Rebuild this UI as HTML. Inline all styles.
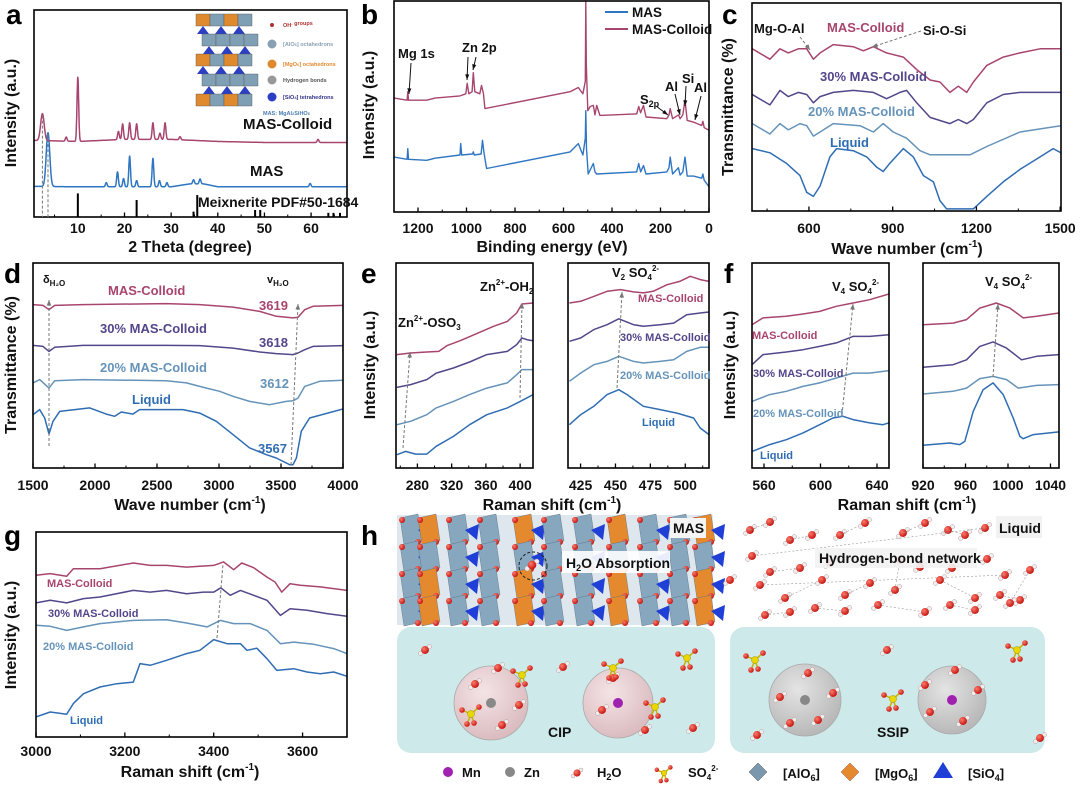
<!DOCTYPE html>
<html><head><meta charset="utf-8">
<style>
html,body{margin:0;padding:0;background:#fff;}
svg{display:block;font-family:"Liberation Sans",Arial,sans-serif;}
.tk{font-size:14px;font-weight:bold;fill:#111;}
.at{font-size:16px;font-weight:bold;fill:#111;}
.pl{font-size:28px;font-weight:bold;fill:#000;}
.lb{font-size:13px;font-weight:bold;}
.sm{font-size:11px;font-weight:bold;}
</style></head>
<body>
<svg id="fig" width="1080" height="786" viewBox="0 0 1080 786" xmlns="http://www.w3.org/2000/svg">
<defs>
<radialGradient id="gPink" cx="0.4" cy="0.35" r="0.7"><stop offset="0" stop-color="#f4e4e6"/><stop offset="1" stop-color="#d9b9bd"/></radialGradient>
<radialGradient id="gGray" cx="0.4" cy="0.35" r="0.7"><stop offset="0" stop-color="#e4e4e4"/><stop offset="1" stop-color="#b5b5b5"/></radialGradient>
<radialGradient id="gRed" cx="0.35" cy="0.35" r="0.7"><stop offset="0" stop-color="#ff7a6a"/><stop offset="1" stop-color="#c0100c"/></radialGradient>
</defs>
<g id="plots"></g>
<g id="illus"></g>
</svg>
<script>
// ---------------- DATA ----------------
const aColBaseX=[0.6,10,20,30,40,50,67.7];
const aColBaseY=[37,36.5,37.5,37.5,36.5,36,36];
const aColPeakPos=[2.4,7.5,10,18.7,19.6,21.1,22.6,26.1,27.6,28.7,31.9,61.5];
const aColPeakH=[13,2,31,4,7.5,8,7.5,8,3,8,1.5,1.5];
const aMasBaseX=[0.6,10,30,34,37,40,67.7];
const aMasBaseY=[14.8,14.6,14.6,16,16,14.6,14.6];
const aMasPeakPos=[3.6,16.1,18.5,19.8,21.1,22.6,26.1,27.5,29.1,34.8,36.2,59.8];
const aMasPeakH=[26,2,7.2,4,14.8,3,13.7,3,2,2,2.4,1.6];
const aStickPos=[10,22.6,34.8,35.6,48,49.1,63.7,64.8,66.2];
const aStickH=[11.4,8.2,2.6,10.6,3.4,3.4,2,2,2];
const bColX=[1299,1245,1242,1239,1164,1130,1027,1003,997,990,977,972,966,945,938,930,924,573,539,520,510,508,506,500,490,477,470,463,450,298,290,282,270,260,174,165,160,150,126,119,108,99,90,64,30,25,20,0];
const bColY=[54,53,57,53,53,54,55,56,61,56,57,66,57,56,60,56,49,57,59,56,62,100,70,48,50,50.5,46,50.5,45.8,46.5,50,47,50.5,45,44.2,46,49,44.2,46,44.2,46,53,43.4,42.6,41,43,40,38.7];
const bMasX=[1299,1245,1242,1239,1164,1130,1027,1024,1020,975,972,968,940,934,928,917,573,539,520,510,508,505,498,477,470,463,298,290,282,270,260,174,165,160,150,126,119,108,99,90,64,30,25,20,0];
const bMasY=[26,25,30,25,24.5,25.5,27,32.4,27,27.5,28.5,27,27.5,34,28,20.6,28.5,32.4,27,35,48,30,18,23,19,18,19,23,19,22,18,19,21,26,18,21,17.5,19,26,17,17,16,18,15,12];
const cColX=[397,460,496,526,562,592,616,640,687,759,795,831,878,938,986,1034,1069,1105,1135,1165,1189,1237,1296,1356,1428,1503];
const cColY=[78,73,78,76,78,78,73,76,80,79,77,79,76,74,68,63,62,57,60,57,62,70,74,76,78,78];
const c30X=[397,460,496,526,562,592,616,640,687,759,831,878,926,950,986,1034,1105,1135,1165,1189,1237,1296,1356,1503];
const c30Y=[56,51,58,55,57,56,52,55,57,58,57,54,57,58,52,45,42,44,42,44,52,56,57,57];
const c20X=[397,460,496,526,568,592,616,640,687,783,831,866,902,950,998,1034,1117,1177,1237,1356,1503];
const c20Y=[42,37,42,39,42,41,36,38,42,41,38,42,38,35,29,27,27,27,31,38,41];
const cLiqX=[397,460,519,568,592,616,640,675,699,759,807,843,866,890,938,974,1010,1046,1069,1093,1189,1237,1296,1356,1416,1475,1503];
const cLiqY=[30,28,23,17,9,7,12,26,30,29,26,21,19,23,30,26,17,14,5,1,1,7,14,20,25,30,28];
const dColX=[1500,1581,1629,1675,1903,2575,2844,3113,3328,3462,3597,3637,3691,3758,4000];
const dColY=[79.7,79.3,77.2,79.3,79.7,80.2,79.7,78.5,76.4,74,73.2,73.5,77.2,78.9,79.3];
const d30X=[1500,1581,1629,1675,1903,2575,2844,3113,3328,3462,3597,3637,3691,3758,4000];
const d30Y=[59.8,59.3,56.9,58.9,59.8,59.8,59.7,58.5,56.6,55.8,55.3,56.1,57.7,59.3,59.7];
const d20X=[1500,1554,1629,1675,1903,2575,2737,2898,3005,3113,3247,3408,3543,3597,3637,3691,3812,4000];
const d20Y=[41.5,43.1,39,42.6,43.1,42.6,41.5,39,37.4,35,32.5,30.9,32.5,32.8,34.1,39.8,42.3,42.8];
const dLiqX=[1500,1554,1594,1629,1661,1715,1957,2091,2159,2212,2306,2360,2710,2844,2978,3113,3247,3382,3462,3570,3597,3624,3664,3731,4000];
const dLiqY=[26,28.5,24.4,16.6,22.8,27.6,29.3,26.3,25.2,27.3,26.3,28.5,28.5,26.8,22.8,16.3,9.8,6.5,4.9,1.6,1.6,4.9,17.9,24.4,28.8];
const eLColX=[256,272,291,305,315,330,346,369,385,396,402,415];
const eLColY=[55.3,56.1,56.6,56.9,59.8,62.1,65,69.1,71.5,75.6,80,80.5];
const eL30X=[256,272,291,302,322,341,361,385,396,402,408,415];
const eL30Y=[39.3,40.7,43.1,46.3,48.8,51.7,55.3,56.9,60.2,63.4,62.6,62.1];
const eL20X=[256,272,291,302,322,341,361,385,396,402,415];
const eL20Y=[21.1,22.8,26,29.3,32.5,35.8,39,41.5,45.5,48,48];
const eLLiqX=[256,266,278,291,302,322,341,361,385,400,415];
const eLLiqY=[6.5,8.1,6.8,6.8,10.6,15.4,21.1,26,29.3,32.5,35.8];
const eRColX=[417,425,434.5,444,453.6,463,470,477,487,496,503.6,510.7,517];
const eRColY=[80.5,81.3,83.7,86.2,87,85.9,85.4,86.2,89.4,91,93.5,91.9,91];
const eR30X=[417,425,434.5,444,452.4,463,470,482,491.7,501,510.7,517];
const eR30Y=[61.8,63.4,67.5,69.9,72.8,69.9,69.1,69.9,70.7,74.8,75.6,76.1];
const eR20X=[417,425,434.5,444,452.4,463,470,482,491.7,501,510.7,517];
const eR20Y=[42.3,46.3,50.4,52,54.5,52,51.2,52,52.8,56.9,58.9,58.9];
const eRLiqX=[417,425,434.5,444,452.4,458.3,470,482,494,506,510.7,517];
const eRLiqY=[21.1,26,30.1,35.8,38.2,35.8,30.1,28.5,26.8,24.4,19.5,16.3];
const fLColX=[551.5,559.3,575.8,587.6,599.4,611.2,623,634.8,648.5];
const fLColY=[69.9,73.2,74,75.1,76.4,78.9,80.5,82.1,84.9];
const fL30X=[551.5,559.3,575.8,587.6,599.4,611.2,623,634.8,648.5];
const fL30Y=[50.4,55.3,56.6,57.7,59.3,61,64.2,64.2,65];
const fL20X=[551.5,564,575.8,587.6,599.4,611.2,623,634.8,648.5];
const fL20Y=[32.5,35.8,37.4,39.8,41.5,43.9,46.3,46.3,47.5];
const fLLiqX=[551.5,564,575.8,587.6,599.4,608.8,615.9,623,634.8,644.2,648.5];
const fLLiqY=[8.1,11.4,13.8,17.1,21.1,24.4,25.2,23.6,22,21.1,22];
const fRColX=[920,948.3,960.9,973.5,989,1001.8,1014.3,1027,1048];
const fRColY=[69.9,70.7,72.4,78,80.5,78,73.2,74,75.6];
const fR30X=[920,948.3,960.9,973.5,986,998.6,1012.8,1027,1048];
const fR30Y=[49.1,50.4,52.8,59.3,61.5,58.5,52.8,54.5,55.3];
const fR20X=[920,948.3,960.9,973.5,986,998.6,1009.6,1027,1048];
const fR20Y=[36.1,37.4,39,43.6,44.7,43.1,39,40.3,40.7];
const fRLiqX=[920,945.2,954.6,959.3,967.2,976.6,986,995.5,1004.9,1011.2,1014.3,1023.8,1048];
const fRLiqY=[11.1,12.2,11.4,13,27.6,38.2,41.5,35.8,24.4,15.4,14.3,16.3,17.6];
const gColX=[3000,3032,3069,3084,3144,3219,3257,3294,3339,3369,3400,3422,3445,3463,3490,3520,3538,3553,3572,3595,3640,3700];
const gColY=[78.9,79.7,78.4,82.1,82.1,84.9,83.7,83.7,82.9,83.3,83.7,85.4,81.6,84.9,82.6,78,75.6,70.7,74.8,74,73.2,71.5];
const g30X=[3000,3032,3069,3107,3144,3219,3257,3294,3339,3377,3400,3416,3437,3460,3490,3520,3550,3572,3610,3655,3700];
const g30Y=[65.4,66.7,65.4,67.5,68.3,71.5,70.7,71.5,69.9,70.7,70.7,72.8,69.1,71.5,69.1,66.7,59.3,62.6,61.8,60.2,58.9];
const g20X=[3000,3032,3069,3107,3144,3219,3294,3339,3385,3415,3445,3482,3520,3550,3580,3625,3670,3700];
const g20Y=[54.5,54,52,53.7,55.3,56.9,57.2,55.6,53.7,56.9,55.3,55.3,52,45.5,46.3,45.2,43.1,40.7];
const gLiqX=[3000,3032,3069,3084,3107,3144,3182,3219,3234,3257,3294,3339,3369,3400,3430,3460,3475,3497,3520,3542,3580,3610,3640,3670,3700];
const gLiqY=[9.8,12.2,11.1,16.3,21.1,24.4,26,26.8,35.8,35,37.4,40.7,42.3,47.5,45.5,45.5,42.3,43.3,38.2,32.5,33.3,31.7,30.9,31.7,29.6];

// ---------------- DRAWING ----------------
const NS='http://www.w3.org/2000/svg';
const plots=document.getElementById('plots');
const illus=document.getElementById('illus');
const C={col:'#a8456f',p30:'#54468a',p20:'#6593b9',liq:'#2f6db3',mas:'#2f76c2'};
function el(tag,attrs,parent){const e=document.createElementNS(NS,tag);for(const k in attrs)e.setAttribute(k,attrs[k]);(parent||plots).appendChild(e);return e;}
function txt(x,y,s,cls,fill,anchor,parent,name){const t=el('text',{x:x,y:y,class:cls,fill:fill||'#111','text-anchor':anchor||'start'},parent);t.innerHTML=s;


return t;}
let clipN=0;
function makeAxes(o){
  const g=el('g',{});
  
  
  const sx=v=>o.x0+(v-o.d0)/(o.d1-o.d0)*(o.x1-o.x0);
  const sy=v=>o.y1-v/100*(o.y1-o.y0);
  const id='clip'+(clipN++);
  const cp=el('clipPath',{id:id},g);el('rect',{x:o.x0,y:o.y0-30,width:o.x1-o.x0,height:o.y1-o.y0+30},cp);
  const sg=el('g',{'clip-path':'url(#'+id+')'},g);
  (o.minor||[]).forEach(t=>{const x=sx(t);const m=el('line',{x1:x,x2:x,y1:o.y1,y2:o.y1-2.5,stroke:'#000','stroke-width':1},g);
    
    });
  o.ticks.forEach(t=>{const x=sx(t);const m=el('line',{x1:x,x2:x,y1:o.y1,y2:o.y1-4.5,stroke:'#000','stroke-width':1.3},g);
    
    
    txt(x,o.ty,String(t),'tk','#111','middle',g,'x-tick-label');});
  const fr=el('rect',{x:o.x0,y:o.y0,width:o.x1-o.x0,height:o.y1-o.y0,fill:'none',stroke:'#000','stroke-width':1.6},g);
  
  
  return {g,sg,sx,sy};
}
function line(ax,xs,ys,color,name,w){
  const d=xs.map((x,i)=>(i?'L':'M')+ax.sx(x).toFixed(1)+','+ax.sy(ys[i]).toFixed(1)).join('');
  const p=el('path',{d:d,fill:'none',stroke:color,'stroke-width':w||1.5,'stroke-linejoin':'round'},ax.sg);
  
  
  return p;
}
function interp(xs,ys,x){for(let i=1;i<xs.length;i++){if(x<=xs[i]){const t=(x-xs[i-1])/(xs[i]-xs[i-1]);return ys[i-1]+t*(ys[i]-ys[i-1]);}}return ys[ys.length-1];}
function peaksCurve(bx,by,pp,ph,d0,d1){const xs=[],ys=[];for(let x=d0;x<=d1;x+=0.05){let v=interp(bx,by,x);pp.forEach((p,i)=>{const s=(p<5?0.38:0.18);v+=ph[i]*Math.exp(-0.5*((x-p)/s)**2);});xs.push(x);ys.push(v);}return [xs,ys];}
function dashed(x1,y1,x2,y2,name,head){const l=el('line',{x1,y1,x2,y2,stroke:'#777','stroke-width':1,'stroke-dasharray':'3,2'});
  
  
  if(head){const a=Math.atan2(y2-y1,x2-x1),L=6;const p=el('path',{d:`M${x2},${y2}L${x2-L*Math.cos(a-0.4)},${y2-L*Math.sin(a-0.4)}L${x2-L*Math.cos(a+0.4)},${y2-L*Math.sin(a+0.4)}Z`,fill:'#777'});
  
  }}
function arrow(x1,y1,x2,y2,name){const l=el('line',{x1,y1,x2,y2,stroke:'#111','stroke-width':1});
  
  
  const a=Math.atan2(y2-y1,x2-x1),L=6;const p=el('path',{d:`M${x2},${y2}L${x2-L*Math.cos(a-0.35)},${y2-L*Math.sin(a-0.35)}L${x2-L*Math.cos(a+0.35)},${y2-L*Math.sin(a+0.35)}Z`,fill:'#111'});
  
  }
function ytitle(x,y,s,name){const t=el('text',{x:0,y:0,class:'at','text-anchor':'middle',transform:`translate(${x},${y}) rotate(-90)`});t.innerHTML=s;
  
  }
const cm='(cm<tspan font-size="10" dy="-7">-1</tspan><tspan dy="7">)</tspan>';

// ----- a -----
let A=makeAxes({name:'panel-a',x0:34,x1:347,y0:10,y1:217,d0:0.6,d1:67.7,ticks:[10,20,30,40,50,60],minor:[5,15,25,35,45,55,65],ty:233});
aStickPos.forEach((p,i)=>{const s=el('line',{x1:A.sx(p),x2:A.sx(p),y1:A.sy(0),y2:A.sy(aStickH[i]),stroke:'#000','stroke-width':2},A.sg);
  
  });
let cc=peaksCurve(aMasBaseX,aMasBaseY,aMasPeakPos,aMasPeakH,0.6,67.7);line(A,cc[0],cc[1],C.mas,'mas-xrd-curve');
cc=peaksCurve(aColBaseX,aColBaseY,aColPeakPos,aColPeakH,0.6,67.7);line(A,cc[0],cc[1],C.col,'mas-colloid-xrd-curve');
dashed(A.sx(2.4),A.sy(49),A.sx(2.4),A.sy(0),'guide-line-1');dashed(A.sx(3.6),A.sy(40),A.sx(3.6),A.sy(0),'guide-line-2');
txt(243,129,'MAS-Colloid','lb','#111','start',null,'mas-colloid-label').setAttribute('style','font-size:15px');
txt(250,176,'MAS','lb','#111','start',null,'mas-label').setAttribute('style','font-size:15px');
txt(198,207,'Meixnerite PDF#50-1684','lb','#111','start',null,'reference-label').setAttribute('style','font-size:14px');
(function(){const ig=el('g',{});
 for(let r=0;r<5;r++){const y=14+r*20;const x0=r%2?202:196;
  for(let k=0;k<4;k++){const col=(r%2==0&&k%2==0)?'#e08a30':'#7f9fb5';el('rect',{x:x0+k*14,y:y,width:14,height:12,fill:col,stroke:'#555','stroke-width':0.4},ig);}
  if(r<4)for(let k=0;k<3;k++)el('path',{d:`M${x0+7+k*18},${y+12}l6,8h-12z`,fill:'#2b3fc4'},ig);}
 const items=[['OH<tspan dy="-2" font-size="4">-</tspan> groups','#b03030','#b03030'],['[AlO<tspan font-size="4">6</tspan>] octahedrons','#8aa0b5','#8aa0b5'],['[MgO<tspan font-size="4">6</tspan>] octahedrons','#e08a30','#e08a30'],['Hydrogen bonds','#555','#999'],['[SiO<tspan font-size="4">4</tspan>] tetrahedrons','#33338a','#2b3fc4']];
 items.forEach((it,i)=>{const y=[27,46,66,82,99][i];el('circle',{cx:272,cy:y-2,r:i==0?2:4.5,fill:it[2]},ig);const t=txt(283,y,it[0],'','','start',ig,'inset-legend-text');t.setAttribute('style','font-size:5.5px;font-weight:bold;fill:'+it[1]);});
 const t=txt(263,115,'MAS: MgAl<tspan font-size="4">2</tspan>SiHO<tspan font-size="4">6</tspan>','','','start',ig,'inset-formula');t.setAttribute('style','font-size:5.5px;font-weight:bold;fill:#4a7db0');})();
ytitle(16,113,'Intensity (a.u.)','y-axis-title-a');
txt(190,252,'2 Theta (degree)','at','#111','middle',null,'x-axis-title-a');
txt(6,24,'a','pl','#000','start',null,'panel-label-a');

// ----- b -----
let B=makeAxes({name:'panel-b',x0:394,x1:709,y0:1,y1:212,d0:1299,d1:0,ticks:[1200,1000,800,600,400,200,0],minor:[1100,900,700,500,300,100],ty:233});
line(B,bMasX,bMasY,C.mas,'mas-xps-curve',1.4);line(B,bColX,bColY,C.col,'mas-colloid-xps-curve',1.4);
[['MAS',C.mas,17],['MAS-Colloid',C.col,34]].forEach(l=>{const ln=el('line',{x1:605,x2:628,y1:l[2]-5,y2:l[2]-5,stroke:l[1],'stroke-width':2});
  
  txt(632,l[2],l[0],'lb','#111','start',null,'legend-entry').setAttribute('style','font-size:13.5px');});
txt(398,58,'Mg 1s','lb','#111','start',null,'mg1s-label');arrow(411,63,409,94,'mg1s-arrow');
txt(462,52,'Zn 2p','lb','#111','start',null,'zn2p-label');arrow(468,57,467,80,'zn2p-arrow-1');arrow(476,57,473,70,'zn2p-arrow-2');
txt(640,104,'S<tspan font-size="9" dy="3">2p</tspan>','lb','#111','start',null,'s2p-label');arrow(656,106,668,115,'s2p-arrow');
txt(665,91,'Al','lb','#111','start',null,'al-label-1');arrow(675,94,680,115,'al-arrow-1');
txt(682,83,'Si','lb','#111','start',null,'si-label');arrow(686,86,685,106,'si-arrow');
txt(694,92,'Al','lb','#111','start',null,'al-label-2');arrow(701,96,695,120,'al-arrow-2');
ytitle(374,105,'Intensity (a.u.)','y-axis-title-b');
txt(552,252,'Binding energy (eV)','at','#111','middle',null,'x-axis-title-b');
txt(361,24,'b','pl','#000','start',null,'panel-label-b');

// ----- c -----
let Cc=makeAxes({name:'panel-c',x0:752,x1:1061,y0:3,y1:211,d0:396,d1:1503,ticks:[600,900,1200,1500],minor:[450,750,1050,1350],ty:233});
line(Cc,cLiqX,cLiqY,C.liq,'liquid-ftir-curve');line(Cc,c20X,c20Y,C.p20,'20pct-ftir-curve');line(Cc,c30X,c30Y,C.p30,'30pct-ftir-curve');line(Cc,cColX,cColY,C.col,'colloid-ftir-curve');
txt(754,33,'Mg-O-Al','lb','#111','start',null,'mg-o-al-label');txt(827,32,'MAS-Colloid','lb',C.col,'start',null,'colloid-label-c');txt(923,35,'Si-O-Si','lb','#111','start',null,'si-o-si-label');
dashed(800,37,810,50,'mg-o-al-arrow',true);dashed(921,31,872,47,'si-o-si-arrow',true);
txt(820,81,'30% MAS-Colloid','lb',C.p30,'start',null,'30pct-label-c');txt(808,116,'20% MAS-Colloid','lb',C.p20,'start',null,'20pct-label-c');txt(830,147,'Liquid','lb',C.liq,'start',null,'liquid-label-c');
ytitle(733,107,'Transmittance (%)','y-axis-title-c');
txt(907,254,'Wave number '+cm,'at','#111','middle',null,'x-axis-title-c');
txt(722,24,'c','pl','#000','start',null,'panel-label-c');

// ----- d -----
let D=makeAxes({name:'panel-d',x0:33,x1:343,y0:263,y1:468,d0:1500,d1:4000,ticks:[1500,2000,2500,3000,3500,4000],minor:[1750,2250,2750,3250,3750],ty:490});
line(D,dLiqX,dLiqY,C.liq,'liquid-d-curve');line(D,d20X,d20Y,C.p20,'20pct-d-curve');line(D,d30X,d30Y,C.p30,'30pct-d-curve');line(D,dColX,dColY,C.col,'colloid-d-curve');
dashed(49,446,49,300,'delta-guide',true);dashed(291,465,298,304,'nu-guide',true);
txt(43,283,'δ<tspan font-size="8" dy="3">H₂O</tspan>','sm','#111','start',null,'delta-h2o-label');txt(267,283,'v<tspan font-size="8" dy="3">H₂O</tspan>','sm','#111','start',null,'nu-h2o-label');
txt(108,295,'MAS-Colloid','lb',C.col,'start',null,'colloid-label-d');txt(259,310,'3619','lb',C.col,'start',null,'value-3619');
txt(100,333,'30% MAS-Colloid','lb',C.p30,'start',null,'30pct-label-d');txt(259,347,'3618','lb',C.p30,'start',null,'value-3618');
txt(100,372,'20% MAS-Colloid','lb',C.p20,'start',null,'20pct-label-d');txt(260,388,'3612','lb',C.p20,'start',null,'value-3612');
txt(132,404,'Liquid','lb',C.liq,'start',null,'liquid-label-d');txt(258,453,'3567','lb',C.liq,'start',null,'value-3567');
ytitle(16,365,'Transmittance (%)','y-axis-title-d');
txt(190,510,'Wave number '+cm,'at','#111','middle',null,'x-axis-title-d');
txt(4,283,'d','pl','#000','start',null,'panel-label-d');

// ----- e -----
let EL=makeAxes({name:'panel-e-left',x0:396,x1:533,y0:263,y1:468,d0:255,d1:415,ticks:[280,320,360,400],minor:[260,300,340,380],ty:490});
line(EL,eLLiqX,eLLiqY,C.liq,'liquid-e-left');line(EL,eL20X,eL20Y,C.p20,'20pct-e-left');line(EL,eL30X,eL30Y,C.p30,'30pct-e-left');line(EL,eLColX,eLColY,C.col,'colloid-e-left');
dashed(403,448,410,352,'oso3-guide',true);dashed(520,398,522,303,'oh2-guide',true);
txt(480,291,'Zn<tspan font-size="8" dy="-6">2+</tspan><tspan dy="6">-OH</tspan><tspan font-size="8" dy="3">2</tspan>','lb','#111','start',null,'zn-oh2-label');
txt(398,327,'Zn<tspan font-size="8" dy="-6">2+</tspan><tspan dy="6">-OSO</tspan><tspan font-size="8" dy="3">3</tspan>','lb','#111','start',null,'zn-oso3-label');
let ER=makeAxes({name:'panel-e-right',x0:568,x1:709,y0:263,y1:468,d0:416,d1:517,ticks:[425,450,475,500],minor:[437.5,462.5,487.5,512.5],ty:490});
line(ER,eRLiqX,eRLiqY,C.liq,'liquid-e-right');line(ER,eR20X,eR20Y,C.p20,'20pct-e-right');line(ER,eR30X,eR30Y,C.p30,'30pct-e-right');line(ER,eRColX,eRColY,C.col,'colloid-e-right');
dashed(617,388,622,292,'v2-guide',true);
txt(612,277,'V<tspan font-size="8" dy="3">2</tspan><tspan dy="-3"> SO</tspan><tspan font-size="8" dy="3">4</tspan><tspan font-size="8" dy="-9">2-</tspan>','lb','#111','start',null,'v2-so4-label');
txt(638,302,'MAS-Colloid','sm',C.col,'start',null,'colloid-label-e');txt(620,341,'30% MAS-Colloid','sm',C.p30,'start',null,'30pct-label-e');
txt(620,379,'20% MAS-Colloid','sm',C.p20,'start',null,'20pct-label-e');txt(642,426,'Liquid','sm',C.liq,'start',null,'liquid-label-e');
ytitle(375,365,'Intensity (a.u.)','y-axis-title-e');
txt(552,510,'Raman shift '+cm,'at','#111','middle',null,'x-axis-title-e');
txt(361,283,'e','pl','#000','start',null,'panel-label-e');

// ----- f -----
let FL=makeAxes({name:'panel-f-left',x0:752,x1:889,y0:263,y1:468,d0:551.5,d1:648.5,ticks:[560,600,640],minor:[580,620],ty:490});
line(FL,fLLiqX,fLLiqY,C.liq,'liquid-f-left');line(FL,fL20X,fL20Y,C.p20,'20pct-f-left');line(FL,fL30X,fL30Y,C.p30,'30pct-f-left');line(FL,fLColX,fLColY,C.col,'colloid-f-left');
dashed(842,415,853,304,'v4-guide-left',true);
txt(832,291,'V<tspan font-size="8" dy="3">4</tspan><tspan dy="-3"> SO</tspan><tspan font-size="8" dy="3">4</tspan><tspan font-size="8" dy="-9">2-</tspan>','lb','#111','start',null,'v4-so4-label-left');
txt(752,339,'MAS-Colloid','sm',C.col,'start',null,'colloid-label-f');txt(753,377,'30% MAS-Colloid','sm',C.p30,'start',null,'30pct-label-f');
txt(753,417,'20% MAS-Colloid','sm',C.p20,'start',null,'20pct-label-f');txt(760,459,'Liquid','sm',C.liq,'start',null,'liquid-label-f');
let FR=makeAxes({name:'panel-f-right',x0:923,x1:1059,y0:263,y1:468,d0:920,d1:1048,ticks:[920,960,1000,1040],minor:[940,980,1020],ty:490});
line(FR,fRLiqX,fRLiqY,C.liq,'liquid-f-right');line(FR,fR20X,fR20Y,C.p20,'20pct-f-right');line(FR,fR30X,fR30Y,C.p30,'30pct-f-right');line(FR,fRColX,fRColY,C.col,'colloid-f-right');
dashed(993,377,998,304,'v4-guide-right',true);
txt(985,286,'V<tspan font-size="8" dy="3">4</tspan><tspan dy="-3"> SO</tspan><tspan font-size="8" dy="3">4</tspan><tspan font-size="8" dy="-9">2-</tspan>','lb','#111','start',null,'v4-so4-label-right');
ytitle(735,365,'Intensity (a.u.)','y-axis-title-f');
txt(907,510,'Raman shift '+cm,'at','#111','middle',null,'x-axis-title-f');
txt(724,283,'f','pl','#000','start',null,'panel-label-f');

// ----- g -----
let G=makeAxes({name:'panel-g',x0:36,x1:347,y0:532,y1:737,d0:3000,d1:3700,ticks:[3000,3200,3400,3600],minor:[3100,3300,3500,3700],ty:756});
line(G,gLiqX,gLiqY,C.liq,'liquid-g-curve');line(G,g20X,g20Y,C.p20,'20pct-g-curve');line(G,g30X,g30Y,C.p30,'30pct-g-curve');line(G,gColX,gColY,C.col,'colloid-g-curve');
dashed(217,638,223,564,'g-guide',false);
txt(47,587,'MAS-Colloid','sm',C.col,'start',null,'colloid-label-g');txt(48,617,'30% MAS-Colloid','sm',C.p30,'start',null,'30pct-label-g');
txt(43,650,'20% MAS-Colloid','sm',C.p20,'start',null,'20pct-label-g');txt(70,724,'Liquid','sm',C.liq,'start',null,'liquid-label-g');
ytitle(16,635,'Intensity (a.u.)','y-axis-title-g');
txt(190,777,'Raman shift '+cm,'at','#111','middle',null,'x-axis-title-g');
txt(4,545,'g','pl','#000','start',null,'panel-label-g');
txt(361,545,'h','pl','#000','start',null,'panel-label-h');

// ----- h illustration -----
function water(x,y,s,p){p=p||illus;const g=el('g',{},p);el('circle',{cx:x+4*s,cy:y-3*s,r:2*s,fill:'#eee',stroke:'#b99','stroke-width':0.5},g);el('circle',{cx:x-4*s,cy:y+3*s,r:2*s,fill:'#eee',stroke:'#b99','stroke-width':0.5},g);el('circle',{cx:x,cy:y,r:3.6*s,fill:'url(#gRed)'},g);}
function sulfate(x,y,s){const g=el('g',{},illus);[[-9,-4],[8,-7],[3,9],[-4,10]].forEach(d=>{el('line',{x1:x,y1:y,x2:x+d[0]*s,y2:y+d[1]*s,stroke:'#c9b200','stroke-width':1.5},g);el('circle',{cx:x+d[0]*s,cy:y+d[1]*s,r:2.8*s,fill:'url(#gRed)'},g);});el('circle',{cx:x,cy:y,r:3.5*s,fill:'#e8d800',stroke:'#a09000','stroke-width':0.5},g);}
(function(){const g=el('g',{},illus);
 el('rect',{x:397,y:515,width:316,height:110,fill:'#dfe7ee'},g);
 const cols=[400,418,447,478,513,542,573,607,638,668,693];
 cols.forEach((x,i)=>{for(let r=0;r<4;r++){const y=518+r*27;const orange=(i%3==1)&&(r%2==0)||((i%3==1)&&r==3);
   el('path',{d:`M${x},${y}l18,-4l4,27l-18,4z`,fill:orange?'#e5892e':'#87a7bf',stroke:'#5a6f80','stroke-width':0.4},g);
   if(i%2==0)el('path',{d:`M${x+18},${y+12}l14,-6l-2,16z`,fill:'#1f3fd6'},g);
   el('circle',{cx:x+2,cy:y+2,r:3,fill:'url(#gRed)'},g);el('circle',{cx:x+18,cy:y+24,r:3,fill:'url(#gRed)'},g);}});
 el('circle',{cx:533,cy:566,r:14,fill:'none',stroke:'#222','stroke-width':1,'stroke-dasharray':'3,2'},g);water(532,565,1.2,g);})();
el('rect',{x:562,y:551,width:108,height:22,fill:'#fff',opacity:0.9},illus);
txt(566,568,'H<tspan font-size="9" dy="3">2</tspan><tspan dy="-3">O Absorption</tspan>','lb','#111','start',illus,'h2o-absorption-label').setAttribute('style','font-size:14px');
el('rect',{x:670,y:518,width:36,height:20,fill:'#f4f4f4'},illus);
txt(673,533,'MAS','lb','#111','start',illus,'mas-label-h').setAttribute('style','font-size:14px');
(function(){const pts=[[750,530],[770,522],[790,540],[812,535],[840,535],[865,523],[903,533],[925,523],[948,530],[965,535],[985,528],[752,556],[770,572],[800,568],[830,563],[920,567],[952,568],[987,559],[1005,575],[760,585],[785,598],[822,580],[845,595],[870,583],[895,590],[900,560],[940,580],[975,598],[1000,595],[1020,600],[765,615],[790,612],[815,608],[845,611],[878,605],[925,612],[950,605],[975,610],[1010,603],[1030,570],[730,580]];
 pts.forEach((p,i)=>{water(p[0],p[1],1.1);if(i%2==0&&i+1<pts.length){const q=pts[i+1];el('line',{x1:p[0],y1:p[1],x2:q[0],y2:q[1],stroke:'#999','stroke-width':0.6,'stroke-dasharray':'2,2'},illus);}});})();
el('rect',{x:815,y:548,width:162,height:20,fill:'#f2f2f2',opacity:0.9},illus);
txt(819,563,'Hydrogen-bond network','lb','#111','start',illus,'hbond-network-label').setAttribute('style','font-size:14px');
el('rect',{x:996,y:516,width:46,height:22,fill:'#f2f2f2'},illus);
txt(999,533,'Liquid','lb','#111','start',illus,'liquid-label-h').setAttribute('style','font-size:14px');
const bx1=el('rect',{x:397,y:627,width:318,height:126,rx:14,fill:'#cde9e9'},illus);
const bx2=el('rect',{x:730,y:627,width:315,height:126,rx:14,fill:'#cde9e9'},illus);
[[491,703,37,'url(#gPink)','#888'],[618,703,35,'url(#gPink)','#a020b0'],[805,700,36,'url(#gGray)','#888'],[952,700,34,'url(#gGray)','#a020b0']].forEach(s=>{
 el('circle',{cx:s[0],cy:s[1],r:s[2],fill:s[3],stroke:'#aaa','stroke-width':0.8},illus);el('circle',{cx:s[0],cy:s[1],r:5,fill:s[4]},illus);});
[[498,668],[475,684],[519,705],[502,725],[613,678],[602,710],[645,730],[808,673],[833,693],[818,720],[790,723],[780,697],[955,670],[978,690],[963,721],[930,712],[925,685],[425,650],[563,667],[693,728],[887,650],[757,735],[1040,738]].forEach(p=>water(p[0],p[1],1.1));
[[522,675],[471,714],[613,668],[655,707],[687,658],[755,660],[893,699],[1017,650]].forEach(p=>sulfate(p[0],p[1],1));
txt(548,737,'CIP','lb','#111','start',illus,'cip-label').setAttribute('style','font-size:14px');
txt(877,737,'SSIP','lb','#111','start',illus,'ssip-label').setAttribute('style','font-size:14px');
el('circle',{cx:448,cy:772,r:5,fill:'#a020b0'},illus);txt(462,777,'Mn','lb','#111','start',illus,'legend-mn');
el('circle',{cx:510,cy:772,r:5,fill:'#888'},illus);txt(524,777,'Zn','lb','#111','start',illus,'legend-zn');
water(577,773,1);txt(597,777,'H<tspan font-size="9" dy="3">2</tspan><tspan dy="-3">O</tspan>','lb','#111','start',illus,'legend-h2o');
sulfate(664,773,0.8);txt(688,777,'SO<tspan font-size="8" dy="3">4</tspan><tspan font-size="8" dy="-9">2-</tspan>','lb','#111','start',illus,'legend-so4');
el('path',{d:'M758,763l9,9l-9,9l-9,-9z',fill:'#7a97ad',stroke:'#555','stroke-width':0.5},illus);txt(783,778,'[AlO<tspan font-size="9" dy="3">6</tspan><tspan dy="-3">]</tspan>','lb','#111','start',illus,'legend-alo6');
el('path',{d:'M850,763l9,9l-9,9l-9,-9z',fill:'#e5892e',stroke:'#a55','stroke-width':0.5},illus);txt(875,778,'[MgO<tspan font-size="9" dy="3">6</tspan><tspan dy="-3">]</tspan>','lb','#111','start',illus,'legend-mgo6');
el('path',{d:'M943,762l10,16h-20z',fill:'#1f3fd6'},illus);txt(968,778,'[SiO<tspan font-size="9" dy="3">4</tspan><tspan dy="-3">]</tspan>','lb','#111','start',illus,'legend-sio4');
</script>
</body></html>
